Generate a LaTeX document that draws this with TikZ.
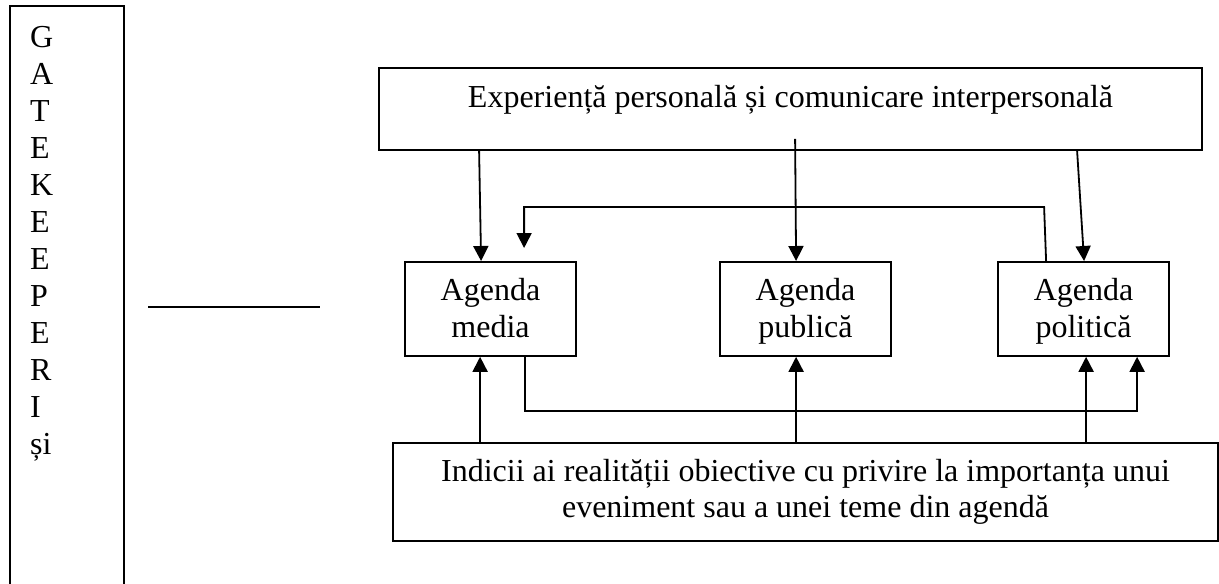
\documentclass[tikz,border=0pt]{standalone}
\usepackage{fontspec}
\setmainfont{Liberation Serif}
\usetikzlibrary{arrows.meta}
\begin{document}
\begin{tikzpicture}[x=1pt,y=-1pt,
  every node/.style={font=\fontsize{32}{36.5}\selectfont},
  line/.style={line width=1.8pt},
  box/.style={draw,line width=1.8pt,inner sep=0pt,align=center},
  agbox/.style={box,minimum width=171pt,minimum height=94pt,text height=76pt,text depth=18pt,
    font=\fontsize{32}{37}\selectfont},
  arr/.style={line width=1.8pt,-{Triangle[width=15pt,length=15pt]}}]
\useasboundingbox[fill=white] (0,0) rectangle (1219,584);
% left gatekeeper box (open at bottom, continues off the page)
\draw[line] (10,600) -- (10,6) -- (124,6) -- (124,600);
\node[anchor=north west,inner sep=0pt,align=left,font=\fontsize{32}{37}\selectfont] (gk) at (30,26)
  {G\\A\\T\\E\\K\\E\\E\\P\\E\\R\\I\\și};
\coordinate (hl1) at (148,307);
\coordinate (hl2) at (320,307);
\draw[line] (hl1) -- (hl2);
% boxes
\node[box,anchor=north,minimum width=823pt,text height=40pt,text depth=42pt] (exp) at (790.5,67)
  {Experiență personală și comunicare interpersonală};
\node[agbox,anchor=north] (med) at (490.5,261) {Agenda\\media};
\node[agbox,anchor=north] (pub) at (805.5,261) {Agenda\\publică};
\node[agbox,anchor=north] (pol) at (1083.5,261) {Agenda\\politică};
\node[box,minimum width=825pt,minimum height=98pt,font=\fontsize{32}{36}\selectfont] (ind) at (805.5,492)
  {Indicii ai realității obiective cu privire la importanța unui\\eveniment sau a unei teme din agendă};
% arrows from top box
\draw[arr] ([xshift=101pt]exp.south west) -- ([xshift=77pt]med.north west);
\draw[arr] ([xshift=417pt,yshift=12pt]exp.south west) -- ([xshift=77pt]pub.north west);
\draw[arr] ([xshift=699pt]exp.south west) -- ([xshift=87pt]pol.north west);
% feedback politica -> media
\coordinate (fbEnd) at ([xshift=120pt,yshift=13pt]med.north west);
\draw[arr] ([xshift=49pt]pol.north west) -- ++(-2,-54) -| (fbEnd);
% arrows from bottom box
\draw[arr] ([xshift=88pt]ind.north west) -- ([xshift=76pt]med.south west);
\draw[arr] ([xshift=404pt]ind.north west) -- ([xshift=77pt]pub.south west);
\draw[arr] ([xshift=694pt]ind.north west) -- ([xshift=89pt]pol.south west);
% media -> politica loop below
\draw[arr] ([xshift=121pt]med.south west) -- ++(0,54) -| ([xshift=140pt]pol.south west);
\end{tikzpicture}
\end{document}
